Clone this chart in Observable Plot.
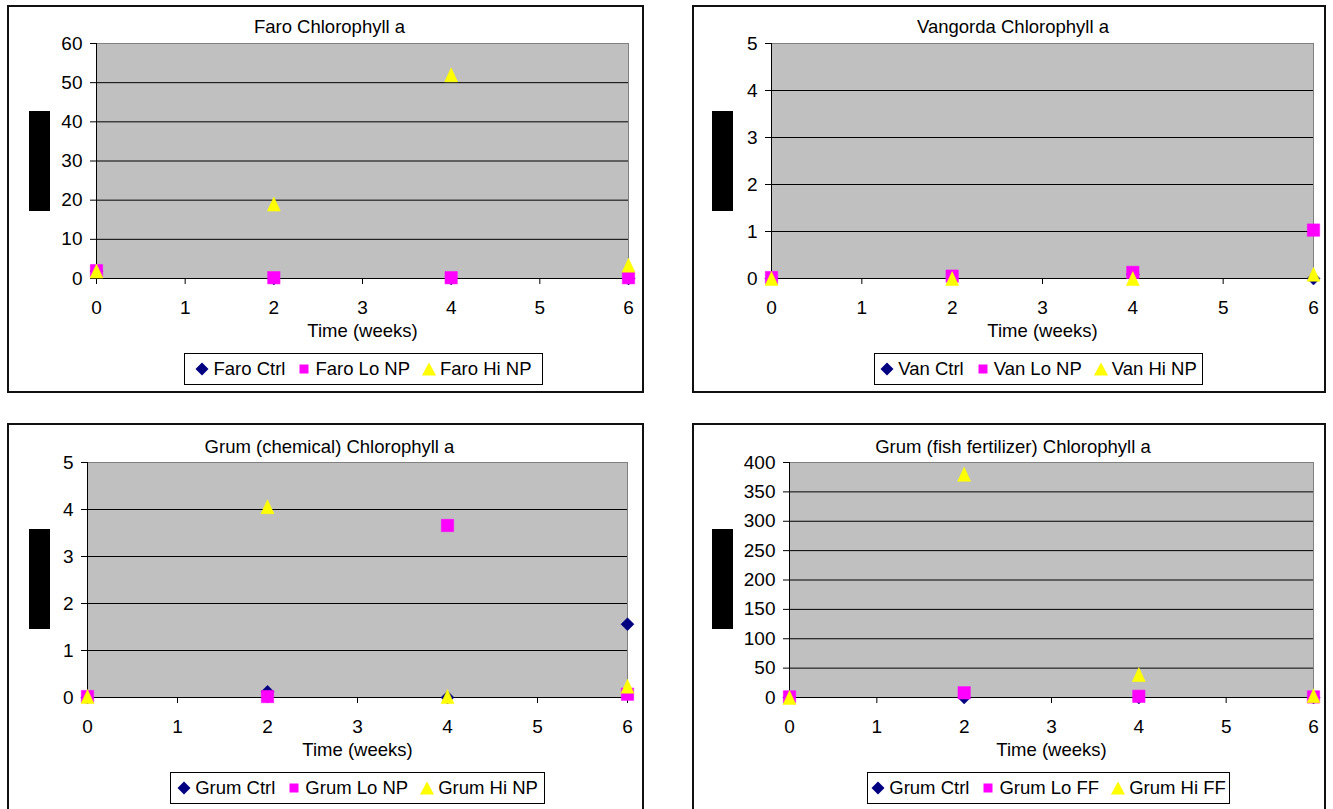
<!DOCTYPE html>
<html><head><meta charset="utf-8">
<script src="https://cdn.jsdelivr.net/npm/d3@7"></script>
<script src="https://cdn.jsdelivr.net/npm/@observablehq/plot@0.6"></script>
<style>
html,body{margin:0;padding:0;background:#fff;overflow:hidden;width:1333px;height:809px;}
body{position:relative;font-family:"Liberation Sans",Arial,sans-serif;color:#000;}
.panel{position:absolute;background:#fff;}
.panel svg.plot{position:absolute;left:0;top:0;}
.border{position:absolute;left:0;top:0;right:0;bottom:0;border:2px solid #111;box-sizing:border-box;pointer-events:none;}
.title{position:absolute;left:8px;right:0;text-align:center;font-size:18.5px;line-height:18.5px;white-space:nowrap;}
.redact{position:absolute;background:#000;}
.legend{position:absolute;height:32px;box-sizing:border-box;border:1px solid #000;background:#fff;display:flex;align-items:center;justify-content:center;font-size:18.5px;line-height:18.5px;white-space:nowrap;}
.item{display:flex;align-items:center;margin:0 6px;}
.item svg{margin-right:4px;display:block;}
</style></head><body>
<script>
// ---------- data ----------
const weeks = [0, 2, 4, 6];
const xTicks = [0, 1, 2, 3, 4, 5, 6];
const xLabel = "Time (weeks)";
const seriesColors = ["#000080", "#FF00FF", "#FFFF00"];

const faroTitle = "Faro Chlorophyll a";
const faroNames = ["Faro Ctrl", "Faro Lo NP", "Faro Hi NP"];
const faroCtrl = [1.9, 0, 0, 0];
const faroLo = [2.0, 0.2, 0.2, 0.2];
const faroHi = [1.9, 19, 52, 3.4];
const faroYTicks = [0, 10, 20, 30, 40, 50, 60];

const vanTitle = "Vangorda Chlorophyll a";
const vanNames = ["Van Ctrl", "Van Lo NP", "Van Hi NP"];
const vanCtrl = [0, 0, 0.09, 0];
const vanLo = [0.02, 0.05, 0.13, 1.03];
const vanHi = [0, 0, 0, 0.09];
const vanYTicks = [0, 1, 2, 3, 4, 5];

const grumChemTitle = "Grum (chemical) Chlorophyll a";
const grumChemNames = ["Grum Ctrl", "Grum Lo NP", "Grum Hi NP"];
const grumChemCtrl = [0, 0.12, 0, 1.56];
const grumChemLo = [0.02, 0.02, 3.66, 0.07];
const grumChemHi = [0.02, 4.06, 0.02, 0.24];
const grumChemYTicks = [0, 1, 2, 3, 4, 5];

const grumFishTitle = "Grum (fish fertilizer) Chlorophyll a";
const grumFishNames = ["Grum Ctrl", "Grum Lo FF", "Grum Hi FF"];
const grumFishCtrl = [0, 0, 0, 0];
const grumFishLo = [1, 8, 2, 1];
const grumFishHi = [0, 380, 39, 3];
const grumFishYTicks = [0, 50, 100, 150, 200, 250, 300, 350, 400];

// ---------- symbols ----------
const FONT = '"Liberation Sans", Arial, sans-serif';
const diamondSym = {draw(c, size) { const r = Math.sqrt(size / Math.PI); c.moveTo(0, -r); c.lineTo(r, 0); c.lineTo(0, r); c.lineTo(-r, 0); c.closePath(); }};
const squareSym = {draw(c, size) { const r = Math.sqrt(size / Math.PI); c.rect(-r, -r, 2 * r, 2 * r); }};
const triangleSym = {draw(c, size) { const r = Math.sqrt(size / Math.PI); c.moveTo(0, -r); c.lineTo(0.93 * r, r); c.lineTo(-0.93 * r, r); c.closePath(); }};
const symbols = [diamondSym, squareSym, triangleSym];
const symbolR = [6.5, 6.2, 7];

function legendMarker(i) {
  const ns = "http://www.w3.org/2000/svg";
  const svg = document.createElementNS(ns, "svg");
  svg.setAttribute("width", 14); svg.setAttribute("height", 14);
  const p = document.createElementNS(ns, "path");
  const d = i === 0 ? "M7,0.5L13.5,7L7,13.5L0.5,7Z" : i === 1 ? "M2.5,2.5H11.5V11.5H2.5Z" : "M7,0.5L14,13.5L0,13.5Z";
  p.setAttribute("d", d); p.setAttribute("fill", seriesColors[i]);
  svg.appendChild(p);
  return svg;
}

function makePanel(cfg) {
  const panel = document.createElement("div");
  panel.className = "panel";
  Object.assign(panel.style, {left: cfg.left + "px", top: cfg.top + "px", width: cfg.w + "px", height: cfg.h + "px"});
  document.body.appendChild(panel);

  const yMax = cfg.yTicks[cfg.yTicks.length - 1];
  const marks = [
    Plot.frame({fill: "#C0C0C0", stroke: "#808080"}),
    Plot.gridY(cfg.yTicks.filter(t => t > 0 && t < yMax), {stroke: "#000", strokeOpacity: 1}),
    Plot.axisX(xTicks, {label: null, tickSize: 6, tickPadding: 16, fontSize: 19, tickFormat: d => String(d)}),
    Plot.axisY(cfg.yTicks, {label: null, tickSize: 6, tickPadding: 8, fontSize: 19, tickFormat: d => String(d)}),
    Plot.ruleX([0], {stroke: "#000"}),
    Plot.ruleY([0], {stroke: "#000"}),
    Plot.text([xLabel], {frameAnchor: "bottom", dy: 58, lineAnchor: "bottom", fontSize: 18.5, text: d => d})
  ];
  cfg.series.forEach((vals, si) => {
    const rows = weeks.map((w, i) => ({week: w, value: vals[i]}));
    marks.push(Plot.dot(rows, {x: "week", y: "value", symbol: symbols[si], r: symbolR[si], fill: seriesColors[si], stroke: seriesColors[si], strokeWidth: 0.5}));
  });
  const svg = Plot.plot({
    width: cfg.w, height: cfg.h,
    marginLeft: cfg.ml, marginRight: cfg.w - cfg.xr, marginTop: cfg.yt, marginBottom: cfg.h - cfg.yb,
    style: {fontFamily: FONT, fontSize: "19px", color: "#000", background: "transparent", overflow: "visible"},
    x: {domain: [0, 6], label: null},
    y: {domain: [0, yMax], label: null},
    marks
  });
  svg.classList.add("plot");
  panel.appendChild(svg);

  const title = document.createElement("div");
  title.className = "title"; title.textContent = cfg.title; title.style.top = cfg.titleTop + "px";
  panel.appendChild(title);

  const red = document.createElement("div");
  red.className = "redact";
  Object.assign(red.style, {left: cfg.redX + "px", top: "106px", width: "21px", height: "100px"});
  panel.appendChild(red);

  const lg = document.createElement("div");
  lg.className = "legend";
  Object.assign(lg.style, {left: cfg.lgX + "px", top: cfg.lgY + "px", width: cfg.lgW + "px"});
  cfg.names.forEach((n, i) => {
    const it = document.createElement("div"); it.className = "item";
    it.appendChild(legendMarker(i));
    const s = document.createElement("span"); s.textContent = n; it.appendChild(s);
    lg.appendChild(it);
  });
  panel.appendChild(lg);

  const b = document.createElement("div"); b.className = "border"; panel.appendChild(b);
}

makePanel({left: 7, top: 5, w: 637, h: 388, ml: 89, xr: 621, yt: 38, yb: 273, titleTop: 12.5,
  title: faroTitle, names: faroNames, series: [faroCtrl, faroLo, faroHi], yTicks: faroYTicks,
  redX: 22, lgX: 177, lgY: 348, lgW: 359});
makePanel({left: 692, top: 5, w: 634, h: 388, ml: 79, xr: 621, yt: 38, yb: 273, titleTop: 12.5,
  title: vanTitle, names: vanNames, series: [vanCtrl, vanLo, vanHi], yTicks: vanYTicks,
  redX: 20, lgX: 182, lgY: 348, lgW: 329});
makePanel({left: 7, top: 423, w: 637, h: 388, ml: 80, xr: 620, yt: 39, yb: 274, titleTop: 14.5,
  title: grumChemTitle, names: grumChemNames, series: [grumChemCtrl, grumChemLo, grumChemHi], yTicks: grumChemYTicks,
  redX: 22, lgX: 163, lgY: 349, lgW: 375});
makePanel({left: 692, top: 423, w: 634, h: 388, ml: 97, xr: 621, yt: 39, yb: 274, titleTop: 14.5,
  title: grumFishTitle, names: grumFishNames, series: [grumFishCtrl, grumFishLo, grumFishHi], yTicks: grumFishYTicks,
  redX: 20, lgX: 175, lgY: 349, lgW: 363});
</script>
</body></html>
